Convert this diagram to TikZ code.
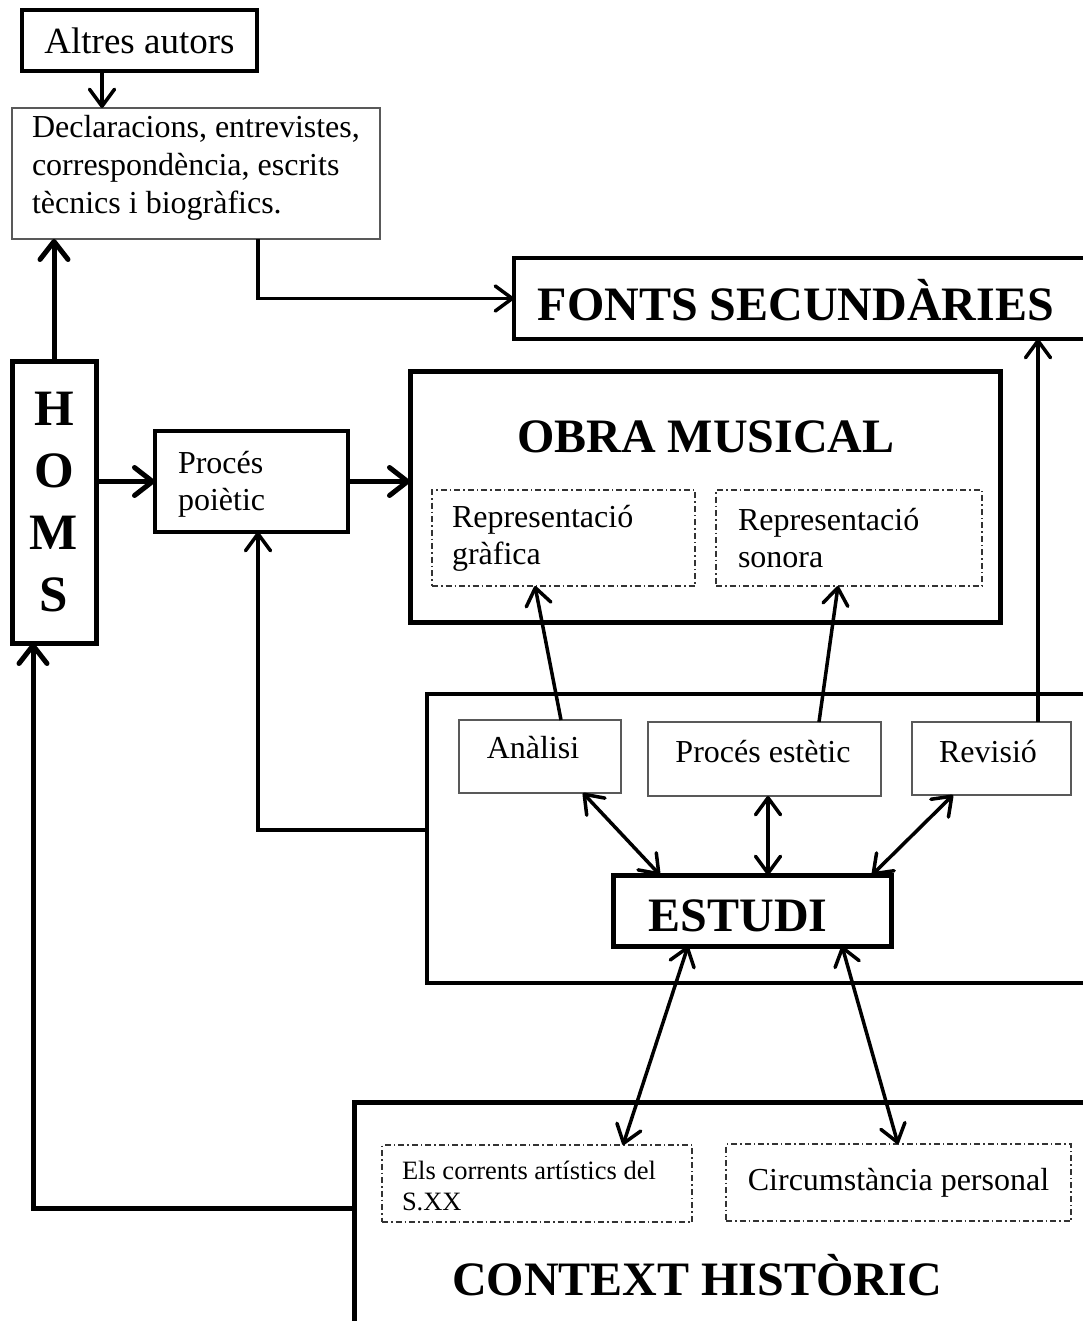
\documentclass[tikz,border=0pt]{standalone}
\usepackage{fontspec}
\setmainfont{Liberation Serif}
\usetikzlibrary{arrows.meta}
\newcommand\setfs[2]{\fontsize{#1}{#2}\selectfont}
\begin{document}
\begin{tikzpicture}[x=1pt,y=-1pt,
  every node/.style={inner sep=0pt, outer sep=0pt},
  sz/.style 2 args={minimum width=#1pt, minimum height=#2pt},
  thickbox/.style={draw, line width=5pt},
  medbox/.style={draw, line width=3.5pt},
  thinbox/.style={draw=black!65, line width=1.5pt},
  dotbox/.style={draw=black!80, line width=1.2pt, dash pattern=on 6pt off 3pt on 1.5pt off 3pt},
  reg/.style={font=\setfs{32}{37}},
  ttl/.style={font=\setfs{48}{55}\bfseries},
  thickarr/.style={line width=5pt, -{Straight Barb[length=18pt,width=28pt,round]}},
  thinarr/.style={line width=3.5pt, -{Straight Barb[length=17pt,width=25pt,round]}},
  dblarr/.style={line width=3.5pt, {Straight Barb[length=17pt,width=25pt,round]}-{Straight Barb[length=17pt,width=25pt,round]}}
]
\useasboundingbox (0,0) rectangle (1083,1321);
\clip (0,0) rectangle (1083,1321);

% boxes
\node[thickbox, line width=4.5pt, sz={235}{61}, font=\setfs{37}{42}] (altres) at (139.5,40.5) {Altres autors};
\node[thinbox, sz={368}{131}] (decl) at (196,173.5) {};
\node[anchor=west, align=left, font=\setfs{32}{38}] (decltxt) at (32,168) {Declaracions, entrevistes,\\correspondència, escrits\\tècnics i biogràfics.};
\node[thickbox, sz={84}{282}, align=center, font=\setfs{51}{62}\bfseries] (homs) at (54,502) {H\\O\\M\\S};
\node[medbox, sz={193}{101}] (poietic) at (251.5,481.5) {};
\node[reg, anchor=west, align=left] (poietictxt) at (178,484) {Procés\\poiètic};
\node[thickbox, sz={590}{251}] (obra) at (705,496.5) {};
\node[ttl] (obratxt) at (706,437) {OBRA MUSICAL};
\node[dotbox, sz={263}{96}, align=left, text width=223pt, inner xsep=20pt, reg] (grafica) at (563.5,538) {Representació\\gràfica};
\node[dotbox, sz={266}{96}, align=left, text width=222pt, inner xsep=22pt, reg] (sonora) at (849,538) {Representació\\sonora};
\node[medbox, sz={586}{81}] (fonts) at (807,298.5) {};
\node[ttl] (fontstxt) at (796,300) {FONTS SECUNDÀRIES};
\node[medbox, sz={673}{289}] (estcont) at (763.5,838.5) {};
\node[thinbox, sz={162}{73}] (analisi) at (540,756.5) {};
\node[reg] (analisitxt) at (533,748) {Anàlisi};
\node[thinbox, sz={233}{74}] (estetic) at (764.5,759) {};
\node[reg] (estetictxt) at (763,752) {Procés estètic};
\node[thinbox, sz={159}{73}] (revisio) at (991.5,758.5) {};
\node[reg] (revisiotxt) at (988,752) {Revisió};
\node[thickbox, sz={278}{71}] (estudi) at (752,910.5) {};
\node[ttl] (estuditxt) at (738,916) {ESTUDI};
\node[thickbox, sz={746}{238}] (context) at (727,1221) {};
\node[dotbox, sz={310}{77}] (corrents) at (537,1183.5) {};
\node[anchor=west, align=left, font=\setfs{26.5}{31}] (correntstxt) at (402,1186) {Els corrents artístics del\\S.XX};
\node[dotbox, sz={345}{77}, reg] (circum) at (898.5,1182.5) {Circumstància personal};
\node[ttl] (contexttxt) at (697,1275) {CONTEXT HISTÒRIC};

% helper coordinates
\coordinate (xa) at (102,0);
\coordinate (xb) at (258,0);
\coordinate (xc) at (1038,0);
\coordinate (xd) at (33,0);
\coordinate (ya) at (0,830);
\coordinate (yb) at (0,1208);
\coordinate (p1) at (561,0);
\coordinate (p2) at (535,0);
\coordinate (p3) at (819,0);
\coordinate (p4) at (838,0);
\coordinate (q1) at (583,0);
\coordinate (q2) at (660,0);
\coordinate (q3) at (768,0);
\coordinate (q4) at (953,0);
\coordinate (q5) at (872,0);
\coordinate (q6) at (688,0);
\coordinate (q7) at (623,0);
\coordinate (q8) at (842,0);
\coordinate (q9) at (898,0);

% connectors
\draw[thinarr] (altres.south -| xa) -- (decl.north -| xa);
\draw[thickarr] (homs.north) -- (decl.south -| homs.north);
\draw[thickarr] (homs.east |- poietic.west) -- (poietic.west);
\draw[thickarr] (poietic.east) -- (obra.west |- poietic.east);
\draw[thinarr] (decl.south -| xb) |- (fonts.west);
\draw[thinarr] (revisio.north -| xc) -- (fonts.south -| xc);
\draw[thinarr] (estcont.west |- ya) -| (poietic.south -| xb);
\draw[thickarr] (context.west |- yb) -| (homs.south -| xd);
\draw[thinarr] (analisi.north -| p1) -- (grafica.south -| p2);
\draw[thinarr] (estetic.north -| p3) -- (sonora.south -| p4);
\draw[dblarr] (analisi.south -| q1) -- (estudi.north -| q2);
\draw[dblarr] (estetic.south -| q3) -- (estudi.north -| q3);
\draw[dblarr] (revisio.south -| q4) -- (estudi.north -| q5);
\draw[dblarr] (estudi.south -| q6) -- (corrents.north -| q7);
\draw[dblarr] (estudi.south -| q8) -- (circum.north -| q9);
\end{tikzpicture}
\end{document}
